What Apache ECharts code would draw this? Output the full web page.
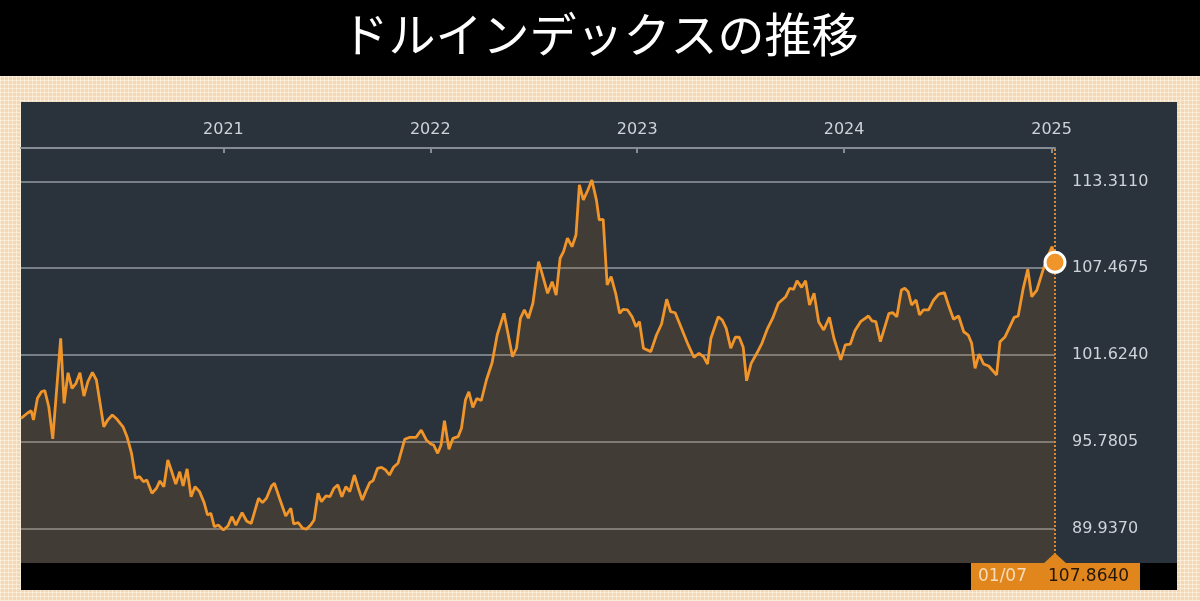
<!DOCTYPE html>
<html><head><meta charset="utf-8">
<script src="https://cdn.jsdelivr.net/npm/echarts@6/dist/echarts.min.js"></script>
<style>
html,body{margin:0;padding:0;width:1200px;height:601px;overflow:hidden;
background-color:#f2d8b6;
background-image:repeating-linear-gradient(0deg, rgba(255,248,236,0.55) 0 1px, transparent 1px 4px),
repeating-linear-gradient(90deg, rgba(255,248,236,0.55) 0 1px, transparent 1px 4px);}
#c{width:1200px;height:601px;}
</style></head><body><div id="c"></div><script>
const titleText = 'ドルインデックスの推移';
const dates = [
'2020-01-10','2020-01-21','2020-01-28','2020-02-01','2020-02-08','2020-02-15','2020-02-21','2020-02-28','2020-03-06','2020-03-20',
'2020-03-26','2020-04-02','2020-04-09','2020-04-16','2020-04-23','2020-04-30','2020-05-07','2020-05-15','2020-05-22','2020-06-04',
'2020-06-11','2020-06-19','2020-06-27','2020-07-08','2020-07-15','2020-07-23','2020-07-30','2020-08-06','2020-08-13','2020-08-19',
'2020-08-28','2020-09-05','2020-09-11','2020-09-18','2020-09-25','2020-10-02','2020-10-09','2020-10-16','2020-10-22','2020-10-29',
'2020-11-05','2020-11-12','2020-11-20','2020-11-28','2020-12-04','2020-12-10','2020-12-16','2020-12-23','2021-01-01','2021-01-09',
'2021-01-16','2021-01-23','2021-02-03','2021-02-11','2021-02-19','2021-03-04','2021-03-11','2021-03-18','2021-03-27','2021-04-01',
'2021-04-10','2021-04-21','2021-04-30','2021-05-05','2021-05-13','2021-05-21','2021-05-28','2021-06-04','2021-06-10','2021-06-17',
'2021-06-23','2021-07-01','2021-07-08','2021-07-15','2021-07-22','2021-07-29','2021-08-05','2021-08-12','2021-08-20','2021-08-27',
'2021-09-03','2021-09-09','2021-09-16','2021-09-22','2021-09-30','2021-10-07','2021-10-14','2021-10-21','2021-10-28','2021-11-05',
'2021-11-17','2021-11-26','2021-12-07','2021-12-16','2021-12-25','2022-01-02','2022-01-07','2022-01-14','2022-01-20','2022-01-26',
'2022-02-03','2022-02-10','2022-02-19','2022-02-25','2022-03-04','2022-03-10','2022-03-17','2022-03-24','2022-04-01','2022-04-10',
'2022-04-20','2022-04-29','2022-05-11','2022-05-18','2022-05-26','2022-06-02','2022-06-09','2022-06-16','2022-06-23','2022-07-01',
'2022-07-11','2022-07-18','2022-07-27','2022-08-04','2022-08-11','2022-08-18','2022-08-24','2022-08-31','2022-09-08','2022-09-15',
'2022-09-21','2022-09-28','2022-10-06','2022-10-13','2022-10-21','2022-10-26','2022-11-02','2022-11-09','2022-11-16','2022-11-24',
'2022-12-01','2022-12-07','2022-12-15','2022-12-23','2022-12-30','2023-01-05','2023-01-12','2023-01-25','2023-02-04','2023-02-13',
'2023-02-22','2023-03-01','2023-03-09','2023-03-19','2023-04-01','2023-04-11','2023-04-20','2023-04-28','2023-05-05','2023-05-11',
'2023-05-24','2023-05-31','2023-06-07','2023-06-15','2023-06-23','2023-06-30','2023-07-07','2023-07-13','2023-07-21','2023-07-31',
'2023-08-09','2023-08-19','2023-08-28','2023-09-07','2023-09-20','2023-09-27','2023-10-04','2023-10-10','2023-10-18','2023-10-25',
'2023-11-01','2023-11-09','2023-11-17','2023-11-26','2023-12-06','2023-12-14','2023-12-26','2024-01-03','2024-01-12','2024-01-20',
'2024-01-30','2024-02-13','2024-02-19','2024-02-26','2024-03-05','2024-03-20','2024-03-27','2024-04-03','2024-04-11','2024-04-17',
'2024-04-23','2024-04-29','2024-05-07','2024-05-13','2024-05-20','2024-05-29','2024-06-07','2024-06-16','2024-06-26','2024-07-03',
'2024-07-12','2024-07-21','2024-07-30','2024-08-07','2024-08-13','2024-08-19','2024-08-26','2024-09-03','2024-09-12','2024-09-26',
'2024-10-02','2024-10-11','2024-10-20','2024-10-27','2024-11-03','2024-11-12','2024-11-20','2024-11-27','2024-12-06','2024-12-16',
'2024-12-25','2025-01-02','2025-01-07'];
const values = [
97.36,97.70,97.87,97.25,98.71,99.15,99.22,98.14,95.97,102.75,
98.37,100.43,99.38,99.72,100.43,98.86,99.83,100.46,99.94,96.79,
97.25,97.58,97.31,96.79,96.12,95.00,93.32,93.43,93.09,93.20,
92.31,92.65,93.14,92.75,94.55,93.76,92.93,93.76,92.80,93.95,
92.08,92.75,92.42,91.68,90.85,90.96,90.06,90.17,89.84,90.11,
90.73,90.17,91.00,90.44,90.27,91.97,91.68,91.97,92.80,92.98,
91.97,90.78,91.30,90.24,90.33,89.95,89.90,90.17,90.51,92.31,
91.74,92.13,92.08,92.65,92.87,92.08,92.75,92.42,93.54,92.65,
91.86,92.42,93.02,93.16,93.99,94.06,93.88,93.54,94.06,94.33,
95.95,96.08,96.08,96.57,95.90,95.63,95.56,95.00,95.56,97.20,
95.27,96.01,96.12,96.69,98.59,99.15,98.09,98.69,98.56,99.94,
101.10,102.97,104.43,103.09,101.51,102.08,104.10,104.66,104.10,105.11,
107.91,107.01,105.78,106.56,105.66,108.14,108.58,109.49,108.92,109.71,
113.08,112.07,112.74,113.41,112.07,110.72,110.76,106.34,106.90,105.78,
104.43,104.70,104.66,104.20,103.53,103.87,102.08,101.85,102.97,103.71,
105.38,104.54,104.47,103.53,102.30,101.47,101.74,101.51,101.02,102.75,
104.20,103.98,103.42,102.08,102.82,102.82,102.14,99.89,101.06,101.74,
102.41,103.42,104.10,105.11,105.55,106.12,106.05,106.63,106.18,106.63,
104.99,105.78,103.87,103.31,104.16,102.75,101.29,102.30,102.36,103.26,
103.87,104.25,103.93,103.87,102.52,104.43,104.47,104.20,106.00,106.12,
105.89,104.99,105.33,104.32,104.66,104.66,105.33,105.73,105.82,104.99,
104.03,104.25,103.19,102.97,102.41,100.73,101.69,101.02,100.88,100.28,
102.52,102.86,103.58,104.16,104.25,106.12,107.40,105.55,106.00,107.24,
108.25,108.92,107.864];
const yTicks = [89.9370, 95.7805, 101.6240, 107.4675, 113.3110];
const yearTicks = ['2021-01-01','2022-01-01','2023-01-01','2024-01-01','2025-01-01'];
const yMin = 87.613, yMax = 115.567;

function ts(s){ const p=s.split('-').map(Number); return new Date(p[0],p[1]-1,p[2]).getTime(); }
const seriesData = dates.map((d,i)=>[ts(d), values[i]]);
const lastDate = dates[dates.length-1], lastVal = values[values.length-1];
const lastTs = ts(lastDate);

const ORANGE = '#f0952a';
const chart = echarts.init(document.getElementById('c'), null, {renderer:'canvas'});
chart.setOption({
  animation:false,
  backgroundColor:'transparent',
  title:{text:titleText,left:'center',top:6,
    textStyle:{color:'#ffffff',fontSize:47,fontWeight:'normal',fontFamily:'Noto Sans CJK JP'}},
  grid:{left:21,right:145,top:148,bottom:38,containLabel:false},
  xAxis:{type:'value',position:'top',min:ts(dates[0]),max:lastTs,
    axisLine:{show:true,lineStyle:{color:'#858c94',width:2}},
    axisTick:{show:true,inside:true,length:5,customValues:yearTicks.map(ts),lineStyle:{color:'#858c94',width:2}},
    axisLabel:{customValues:yearTicks.map(ts),formatter:v=>String(new Date(v).getFullYear()),
      color:'#cdd3d9',fontSize:16,margin:10,fontFamily:'DejaVu Sans'},
    splitLine:{show:false}},
  yAxis:{type:'value',position:'right',min:yMin,max:yMax,
    axisLine:{show:false},
    axisTick:{show:false,customValues:yTicks},
    axisLabel:{customValues:yTicks,formatter:v=>Number(v).toFixed(4),color:'#cdd3d9',fontSize:16,margin:17,fontFamily:'DejaVu Sans'},
    splitLine:{show:true,lineStyle:{color:'#939aa1',width:1.6}}},
  series:[
    {type:'line',data:seriesData,showSymbol:false,symbol:'none',
     lineStyle:{color:ORANGE,width:2.8},
     areaStyle:{origin:'start',color:'rgba(170,100,38,0.28)'},
     markLine:{silent:true,symbol:['none','none'],label:{show:false},
       lineStyle:{type:'dotted',color:'#d98a35',width:2},
       data:[{xAxis:lastTs}]},
     z:3},
    {type:'scatter',data:[[lastTs,lastVal]],symbol:'circle',symbolSize:20,
     itemStyle:{color:ORANGE,borderColor:'#ffffff',borderWidth:3,opacity:1},z:10}
  ],
  graphic:[
    {id:'topband',type:'rect',z:-10,shape:{x:0,y:0,width:1200,height:76},style:{fill:'#000000'}},
    {id:'panel',type:'rect',z:-10,shape:{x:21,y:102,width:1156,height:461},style:{fill:'#2a323c'}},
    {id:'botbar',type:'rect',z:100,shape:{x:21,y:563,width:1156,height:27},style:{fill:'#000000'}}
  ]
});
const px = chart.convertToPixel({gridIndex:0},[lastTs,lastVal])[0];
const d = new Date(lastTs);
const mmdd = String(d.getMonth()+1).padStart(2,'0')+'/'+String(d.getDate()).padStart(2,'0');
chart.setOption({graphic:[
  {id:'tagbox',type:'rect',z:101,shape:{x:px-84,y:563,width:169,height:27},style:{fill:'#e0861c'}},
  {id:'tagtri',type:'polygon',z:101,shape:{points:[[px-12,564],[px,553],[px+12,564]]},style:{fill:'#e0861c'}},
  {id:'tagdate',type:'text',z:102,x:px-77,y:577,style:{text:mmdd,fill:'#f7dcbc',font:'17px "DejaVu Sans"',verticalAlign:'middle'}},
  {id:'tagval',type:'text',z:102,x:px-7,y:577,style:{text:lastVal.toFixed(4),fill:'#24170a',font:'17px "DejaVu Sans"',verticalAlign:'middle'}}
]});
</script></body></html>
